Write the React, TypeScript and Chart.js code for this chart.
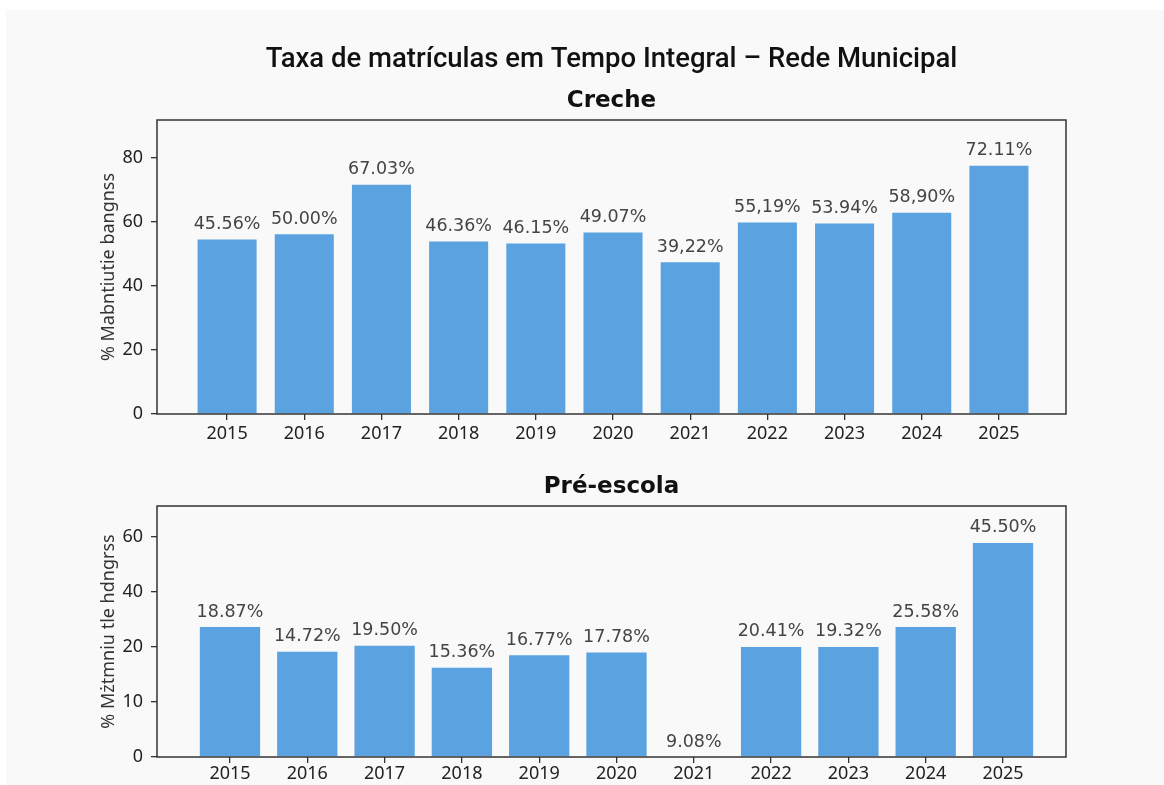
import React, { useEffect, useRef } from 'react';
import { Chart, registerables } from 'chart.js';

Chart.register(...registerables);

const years = [2015, 2016, 2017, 2018, 2019, 2020, 2021, 2022, 2023, 2024, 2025];

const crecheBarValues = [54.4, 56.1, 71.5, 53.8, 53.2, 56.6, 47.3, 59.7, 59.4, 62.8, 77.4];
const crecheLabels = ['45.56%', '50.00%', '67.03%', '46.36%', '46.15%', '49.07%', '39,22%', '55,19%', '53.94%', '58,90%', '72.11%'];
const crecheTickValues = [0, 20, 40, 60, 80];
const crecheTickLabels = ['0', '20', '40', '60', '80'];

// Pré-escola: bar heights in axis units (evenly spaced ticks), and printed labels
const preBarValues = [23.6, 19.1, 20.2, 16.2, 18.5, 19.0, 0, 20.0, 20.0, 23.6, 38.9];
const preLabels = ['18.87%', '14.72%', '19.50%', '15.36%', '16.77%', '17.78%', '9.08%', '20.41%', '19.32%', '25.58%', '45.50%'];
const preTickValues = [0, 10, 20, 30, 40];
const preTickLabels = ['0', '10', '20', '40', '60'];

const mainTitle = 'Taxa de matrículas em Tempo Integral – Rede Municipal';
const crecheTitle = 'Creche';
const preTitle = 'Pré-escola';
const crecheYTitle = '% Mabntiutie bangnss';
const preYTitle = '% Mżtmniu tle hdngrss';

const BAR_COLOR = '#5ba3e0';
const AXIS_COLOR = '#333333';

const framePlugin = {
  id: 'frame',
  afterDatasetsDraw(chart: any) {
    const { ctx, chartArea } = chart;
    ctx.save();
    ctx.strokeStyle = AXIS_COLOR;
    ctx.lineWidth = 1.5;
    ctx.strokeRect(chartArea.left, chartArea.top, chartArea.right - chartArea.left, chartArea.bottom - chartArea.top);
    ctx.restore();
  },
};

const valueLabelPlugin = {
  id: 'valueLabels',
  afterDatasetsDraw(chart: any, _args: any, opts: any) {
    const labels: string[] = opts.labels || [];
    const meta = chart.getDatasetMeta(0);
    const { ctx } = chart;
    ctx.save();
    ctx.font = '17.5px "DejaVu Sans"';
    ctx.fillStyle = '#444444';
    ctx.textAlign = 'center';
    ctx.textBaseline = 'middle';
    meta.data.forEach((el: any, i: number) => {
      ctx.fillText(labels[i], el.x, el.y - 15);
    });
    ctx.restore();
  },
};

// Headings centred over the plot area
const headingPlugin = {
  id: 'headings',
  afterDraw(chart: any, _args: any, opts: any) {
    const items: { text: string; y: number; font: string }[] = opts.items || [];
    const { ctx, chartArea } = chart;
    const cx = (chartArea.left + chartArea.right) / 2;
    ctx.save();
    ctx.fillStyle = '#111111';
    ctx.textAlign = 'center';
    ctx.textBaseline = 'middle';
    items.forEach((it) => {
      ctx.font = it.font;
      ctx.fillText(it.text, cx, it.y);
    });
    ctx.restore();
  },
};

function makeConfig(p: {
  values: number[];
  labels: string[];
  tickValues: number[];
  tickLabels: string[];
  yMax: number;
  xMin: number;
  xMax: number;
  yTitle: string;
  headings: { text: string; y: number; font: string }[];
  padTop: number;
  xHeight: number;
  xPad: number;
  barPct: number;
}): any {
  return {
    type: 'bar',
    data: {
      datasets: [
        {
          data: years.map((y, i) => ({ x: y, y: p.values[i] })),
          backgroundColor: BAR_COLOR,
          borderWidth: 0,
          categoryPercentage: 1,
          barPercentage: p.barPct,
        },
      ],
    },
    options: {
      responsive: false,
      animation: false,
      layout: { padding: { left: 94, right: 98, top: p.padTop, bottom: 0 } },
      plugins: {
        legend: { display: false },
        tooltip: { enabled: false },
        title: { display: false },
        headings: { items: p.headings },
        valueLabels: { labels: p.labels },
      },
      scales: {
        x: {
          type: 'linear',
          offset: false,
          min: p.xMin,
          max: p.xMax,
          afterBuildTicks: (axis: any) => {
            axis.ticks = years.map((v) => ({ value: v }));
          },
          afterFit: (axis: any) => {
            axis.height = p.xHeight;
          },
          ticks: {
            callback: (v: any) => String(v),
            font: { family: '"Noto Sans"', size: 18 },
            color: '#222222',
            padding: p.xPad,
            maxRotation: 0,
            autoSkip: false,
          },
          grid: { display: true, offset: false, drawOnChartArea: false, drawTicks: true, tickLength: 6, color: AXIS_COLOR, lineWidth: 1.3 },
          border: { display: false },
        },
        y: {
          type: 'linear',
          min: 0,
          max: p.yMax,
          afterBuildTicks: (axis: any) => {
            axis.ticks = p.tickValues.map((v) => ({ value: v }));
          },
          afterFit: (axis: any) => {
            axis.width = 63;
          },
          ticks: {
            callback: (v: any) => {
              const idx = p.tickValues.indexOf(Number(v));
              return idx >= 0 ? p.tickLabels[idx] : '';
            },
            font: { family: '"Noto Sans"', size: 18 },
            color: '#222222',
            padding: 8,
          },
          grid: { display: true, drawOnChartArea: false, drawTicks: true, tickLength: 6, color: AXIS_COLOR, lineWidth: 1.3 },
          border: { display: false },
          title: {
            display: true,
            text: p.yTitle,
            font: { family: '"Noto Sans"', size: 18 },
            color: '#333333',
            padding: { top: 4, bottom: 4 },
          },
        },
      },
    },
    plugins: [framePlugin, valueLabelPlugin, headingPlugin],
  };
}

function ChartCanvas({ config, width, height, top }: { config: any; width: number; height: number; top: number }) {
  const ref = useRef<HTMLCanvasElement | null>(null);
  useEffect(() => {
    if (!ref.current) return;
    const chart = new Chart(ref.current, config);
    return () => chart.destroy();
  }, []);
  return (
    <canvas
      ref={ref}
      width={width}
      height={height}
      style={{ position: 'absolute', left: 0, top, width, height, display: 'block' }}
    />
  );
}

export default function App() {
  const topConfig = makeConfig({
    values: crecheBarValues,
    labels: crecheLabels,
    tickValues: crecheTickValues,
    tickLabels: crecheTickLabels,
    yMax: 91.7,
    xMin: 2014.092,
    xMax: 2025.869,
    yTitle: crecheYTitle,
    headings: [
      { text: mainTitle, y: 60, font: '500 27.5px Roboto' },
      { text: crecheTitle, y: 101, font: 'bold 23px "DejaVu Sans"' },
    ],
    padTop: 120,
    xHeight: 30,
    xPad: 3,
    barPct: 0.765,
  });

  const bottomConfig = makeConfig({
    values: preBarValues,
    labels: preLabels,
    tickValues: preTickValues,
    tickLabels: preTickLabels,
    yMax: 45.6,
    xMin: 2014.056,
    xMax: 2025.815,
    yTitle: preYTitle,
    headings: [{ text: preTitle, y: 43, font: 'bold 23px "DejaVu Sans"' }],
    padTop: 62,
    xHeight: 28,
    xPad: 0,
    barPct: 0.78,
  });

  return (
    <div style={{ position: 'absolute', left: 0, top: 0, width: 1164, height: 785, background: '#ffffff', overflow: 'hidden' }}>
      <div style={{ position: 'absolute', left: 6, top: 10, width: 1158, height: 775, background: '#f9f9f9' }} />
      <ChartCanvas config={topConfig} width={1164} height={444} top={0} />
      <ChartCanvas config={bottomConfig} width={1164} height={341} top={444} />
    </div>
  );
}
